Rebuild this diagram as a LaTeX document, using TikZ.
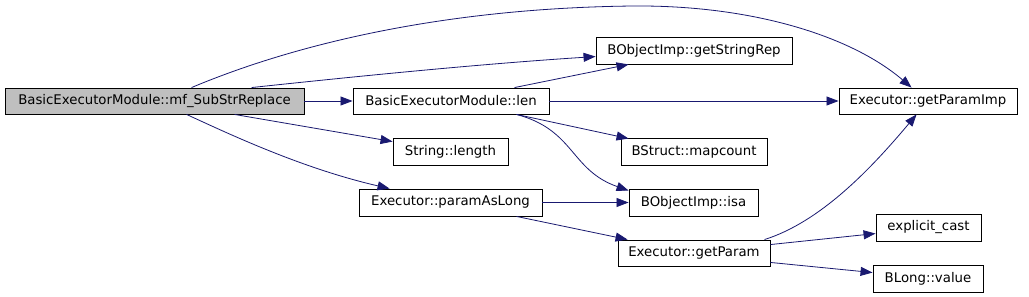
\documentclass[tikz,border=0pt]{standalone}
\usepackage{fontspec}
\setmainfont{DejaVu Sans}
\usetikzlibrary{arrows.meta,calc}
\definecolor{edgecol}{HTML}{191970}
\definecolor{mainfill}{HTML}{BFBFBF}
\begin{document}
\begin{tikzpicture}[x=1pt,y=-1pt,
  fn/.style={draw=black,line width=0.9pt,fill=white,inner sep=0pt,font=\fontsize{13.3}{15}\selectfont},
  call/.style={draw=edgecol,line width=0.8pt,-{Triangle[length=12pt,width=9pt]}}]
\useasboundingbox[fill=white] (0,0) rectangle (1029,297);
\node[fn,fill=mainfill,minimum width=299pt,minimum height=26pt] (main) at (154.5,101) {BasicExecutorModule::mf\_SubStrReplace};
\node[fn,minimum width=196pt,minimum height=26pt] (len) at (451,101) {BasicExecutorModule::len};
\node[fn,minimum width=115pt,minimum height=27pt] (strlen) at (450.5,151.5) {String::length};
\node[fn,minimum width=183pt,minimum height=27pt] (pal) at (450.5,202.5) {Executor::paramAsLong};
\node[fn,minimum width=196pt,minimum height=27pt] (gsr) at (694,50.5) {BObjectImp::getStringRep};
\node[fn,minimum width=146pt,minimum height=27pt] (mapc) at (694,151.5) {BStruct::mapcount};
\node[fn,minimum width=129pt,minimum height=27pt] (isa) at (693.5,202.5) {BObjectImp::isa};
\node[fn,minimum width=152pt,minimum height=26pt] (gp) at (694,253) {Executor::getParam};
\node[fn,minimum width=178pt,minimum height=26pt] (gpi) at (928,101) {Executor::getParamImp};
\node[fn,minimum width=105pt,minimum height=27pt] (ecast) at (928.5,227.5) {explicit\_cast};
\node[fn,minimum width=110pt,minimum height=27pt] (blv) at (928,278.5) {BLong::value};
% edges from main
\draw[call] ($(main.north west)+(187,0)$) .. controls (300,42) and (450,8) .. (633,6)
  .. controls (750,5) and (850,35) .. ($(gpi.north west)+(73,0)$);
\draw[call] ($(main.north west)+(247,0)$) .. controls (360,76) and (480,64) .. ($(gsr.north west)+(0,20)$);
\draw[call] (main.east) -- (len.west);
\draw[call] ($(main.south west)+(230,0)$) -- ($(strlen.north west)+(0,4)$);
\draw[call] ($(main.south west)+(182,0)$) .. controls (225,132) and (300,168) .. ($(pal.north west)+(31,0)$);
% edges from len
\draw[call] ($(len.north west)+(162,0)$) -- ($(gsr.south west)+(33,0)$);
\draw[call] (len.east) -- (gpi.west);
\draw[call] ($(len.south west)+(164,0)$) -- ($(mapc.north west)+(8,1)$);
\draw[call] ($(len.south west)+(164,0)$) .. controls (575,130) and (570,170) .. ($(isa.north west)+(0,2)$);
% edges from paramAsLong
\draw[call] (pal.east) -- (isa.west);
\draw[call] ($(pal.south west)+(158,0)$) -- ($(gp.north west)+(10,0)$);
% edges from getParam
\draw[call] ($(gp.north west)+(147,0)$) .. controls (820,222) and (870,170) .. ($(gpi.south west)+(78,0)$);
\draw[call] ($(gp.north east)+(0,5)$) -- ($(ecast.north west)+(0,20)$);
\draw[call] ($(gp.south east)+(0,-4)$) -- ($(blv.north west)+(0,8)$);
\end{tikzpicture}
\end{document}
